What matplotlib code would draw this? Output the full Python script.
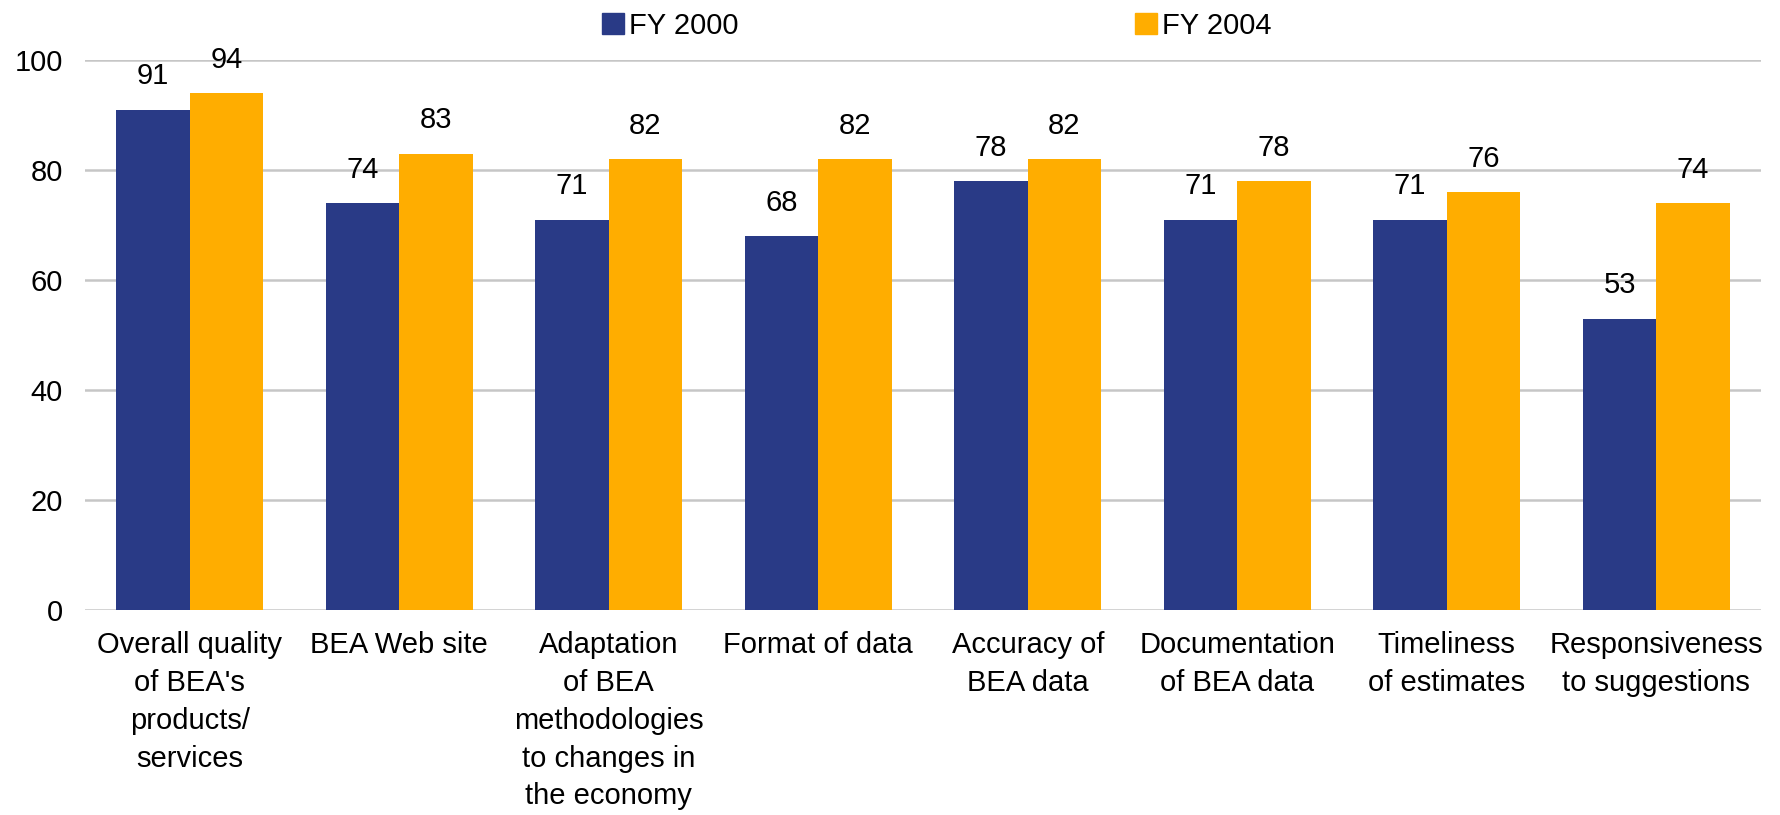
import matplotlib.pyplot as plt
import numpy as np
from matplotlib.patches import Patch

plt.rcParams['font.family'] = ['Liberation Sans', 'DejaVu Sans']

categories = ["Overall quality\nof BEA's\nproducts/\nservices", "BEA Web site",
              "Adaptation\nof BEA\nmethodologies\nto changes in\nthe economy",
              "Format of data", "Accuracy of\nBEA data", "Documentation\nof BEA data",
              "Timeliness\nof estimates", "Responsiveness\nto suggestions"]
fy2000 = [91, 74, 71, 68, 78, 71, 71, 53]
fy2004 = [94, 83, 82, 82, 82, 78, 76, 74]
series_names = ["FY 2000", "FY 2004"]
colors = ["#293a86", "#ffad00"]

fig = plt.figure(figsize=(17.81, 8.15), dpi=100)
ax = fig.add_axes([0.0477, 0.2515, 0.9411, 0.6748])

x = np.arange(len(categories))
w = 0.35
b1 = ax.bar(x - w / 2, fy2000, w, color=colors[0], zorder=3)
b2 = ax.bar(x + w / 2, fy2004, w, color=colors[1], zorder=3)

for bars in (b1, b2):
    for bar in bars:
        h = bar.get_height()
        ax.annotate(f"{h:.0f}", (bar.get_x() + bar.get_width() / 2, h),
                    xytext=(0, 14), textcoords="offset points",
                    ha="center", va="bottom", fontsize=21)

ax.set_xlim(-0.5, len(categories) - 0.5)
ax.set_ylim(0, 100)
ax.set_yticks(range(0, 101, 20))
ax.yaxis.grid(True, color="#c6c6c6", linewidth=1.8, zorder=0)
ax.set_axisbelow(True)
for s in ax.spines.values():
    s.set_visible(False)
ax.tick_params(axis="both", length=0, labelsize=21)
ax.tick_params(axis="y", pad=16)
ax.tick_params(axis="x", pad=15)
ax.set_xticks(x)
ax.set_xticklabels(categories, linespacing=1.45, va="top")

handles = [Patch(color=c) for c in colors]
fig.legend(handles, series_names, loc="center left", bbox_to_anchor=(0.338, 0.968),
           ncol=2, frameon=False, fontsize=21, handlelength=0.75, handleheight=0.72,
           handletextpad=0.17, columnspacing=13.6, borderaxespad=0, borderpad=0)

fig.savefig("out.png", dpi=100)
